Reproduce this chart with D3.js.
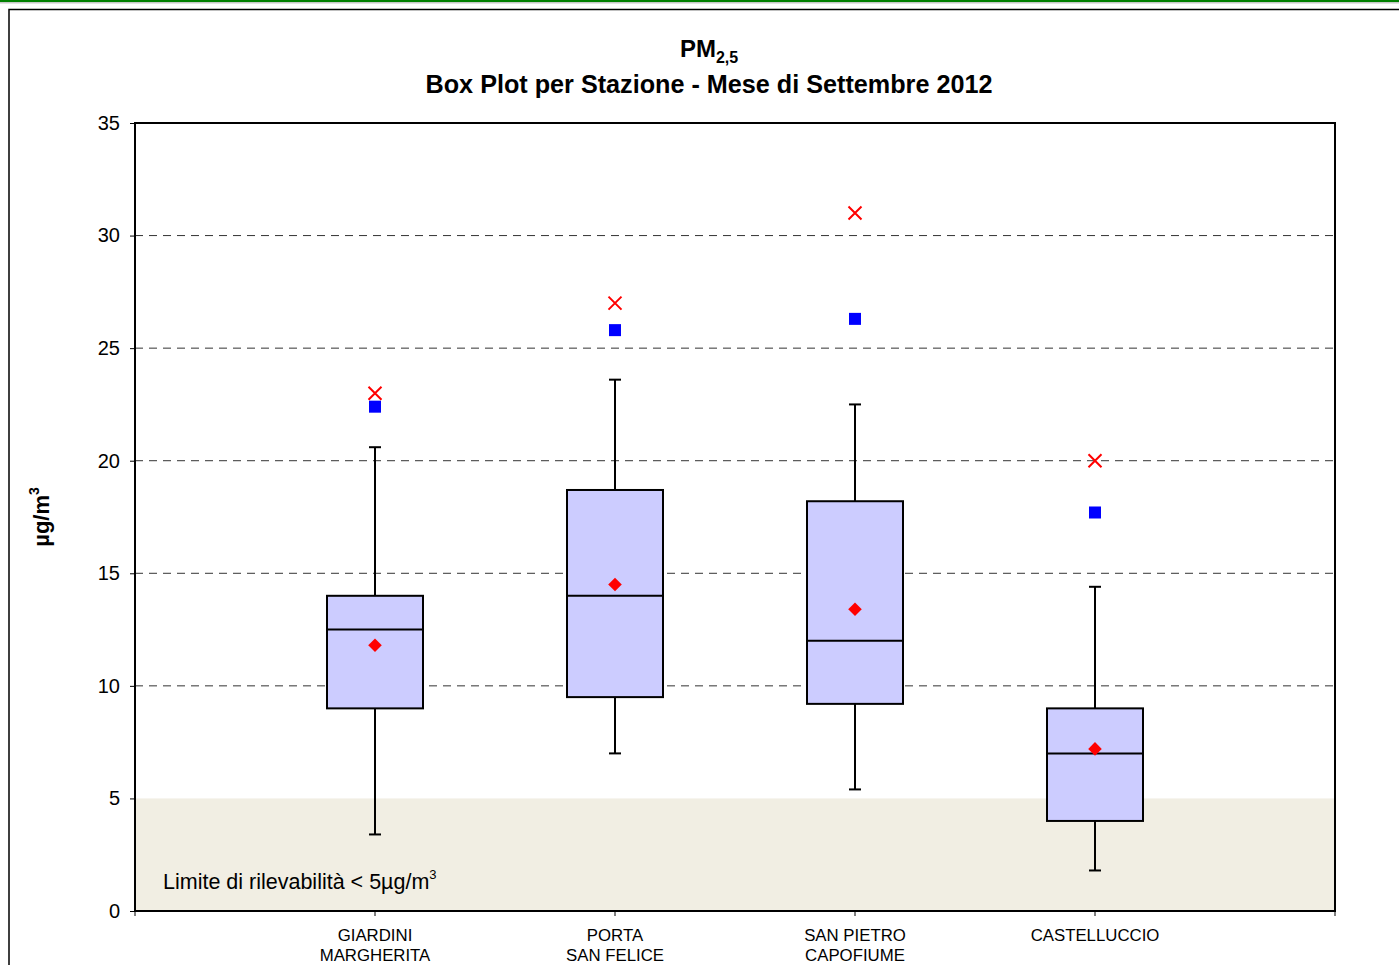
<!DOCTYPE html>
<html><head><meta charset="utf-8">
<script src="https://cdn.jsdelivr.net/npm/d3@7"></script>
<style>body{margin:0;background:#fff}svg{display:block;font-family:"Liberation Sans",Arial,sans-serif}</style>
</head><body><svg id="c" width="1399" height="965"></svg>
<script>
const stations = [["GIARDINI","MARGHERITA"],["PORTA","SAN FELICE"],["SAN PIETRO","CAPOFIUME"],["CASTELLUCCIO"]];
const whiskerLow = [3.4, 7.0, 5.4, 1.8];
const q1 = [9.0, 9.5, 9.2, 4.0];
const median = [12.5, 14.0, 12.0, 7.0];
const q3 = [14.0, 18.7, 18.2, 9.0];
const whiskerHigh = [20.6, 23.6, 22.5, 14.4];
const mean = [11.8, 14.5, 13.4, 7.2];
const percentile98 = [22.4, 25.8, 26.3, 17.7];
const maxValue = [23.0, 27.0, 31.0, 20.0];
const yTicks = [0,5,10,15,20,25,30,35];
const detectionLimit = 5;

const svg = d3.select("#c");
const L=135,R=1335,T=123,B=911;
const keys = stations.map((s,i)=>i);
const x = d3.scalePoint().domain(keys).range([L,R]).padding(1);
const y = d3.scaleLinear().domain([0,35]).range([B,T]);

// top bars and frame
svg.append("rect").attr("x",0).attr("y",0).attr("width",1399).attr("height",2).attr("fill","#008000");
svg.append("rect").attr("x",0).attr("y",2).attr("width",1399).attr("height",1.5).attr("fill","#c8c8c8");
svg.append("rect").attr("x",9).attr("y",9.5).attr("width",1400).attr("height",970).attr("fill","none").attr("stroke","#000").attr("stroke-width",1.5);

// detection band
svg.append("rect").attr("x",L).attr("y",y(detectionLimit)).attr("width",R-L).attr("height",y(0)-y(detectionLimit)).attr("fill","#f1eee3");

// grid
svg.append("g").selectAll("line").data(yTicks.filter(d=>d>detectionLimit&&d<35)).join("line")
  .attr("x1",L).attr("x2",R).attr("y1",d=>y(d)).attr("y2",d=>y(d))
  .attr("stroke","#333").attr("stroke-width",1).attr("stroke-dasharray","8,6");

// axis y
const ya = svg.append("g").attr("transform",`translate(${L},0)`).call(d3.axisLeft(y).tickValues(yTicks).tickSize(5).tickPadding(10));
ya.select(".domain").remove();
ya.selectAll("text").attr("font-size",20).attr("fill","#000").attr("font-family","Liberation Sans, Arial, sans-serif");
ya.selectAll("line").attr("stroke","#000");

// x axis ticks
const xt = d3.range(0,6).map(i=>L+i*(R-L)/5);
svg.append("g").selectAll("line").data(xt).join("line").attr("x1",d=>d).attr("x2",d=>d).attr("y1",B).attr("y2",B+5).attr("stroke","#000");
const xl = svg.append("g").selectAll("text").data(keys).join("text")
  .attr("text-anchor","middle").attr("font-size",16.8).attr("fill","#000");
xl.each(function(i){
  const t=d3.select(this);
  stations[i].forEach((line,j)=>t.append("tspan").attr("x",x(i)).attr("y",941+j*20).text(line));
});

// boxes
const bw = 96, cap = 12;
const g = svg.append("g");
keys.forEach(i=>{
  const cx = x(i);
  g.append("line").attr("x1",cx).attr("x2",cx).attr("y1",y(whiskerLow[i])).attr("y2",y(q1[i])).attr("stroke","#000").attr("stroke-width",2);
  g.append("line").attr("x1",cx).attr("x2",cx).attr("y1",y(q3[i])).attr("y2",y(whiskerHigh[i])).attr("stroke","#000").attr("stroke-width",2);
  g.append("line").attr("x1",cx-cap/2).attr("x2",cx+cap/2).attr("y1",y(whiskerLow[i])).attr("y2",y(whiskerLow[i])).attr("stroke","#000").attr("stroke-width",2);
  g.append("line").attr("x1",cx-cap/2).attr("x2",cx+cap/2).attr("y1",y(whiskerHigh[i])).attr("y2",y(whiskerHigh[i])).attr("stroke","#000").attr("stroke-width",2);
  g.append("rect").attr("x",cx-bw/2).attr("y",y(q3[i])).attr("width",bw).attr("height",y(q1[i])-y(q3[i])).attr("fill","#ccccff").attr("stroke","#000").attr("stroke-width",2);
  g.append("line").attr("x1",cx-bw/2).attr("x2",cx+bw/2).attr("y1",y(median[i])).attr("y2",y(median[i])).attr("stroke","#000").attr("stroke-width",2);
  g.append("path").attr("transform",`translate(${cx},${y(mean[i])}) rotate(45)`).attr("d","M-4.8,-4.8H4.8V4.8H-4.8Z").attr("fill","#ff0000");
  g.append("rect").attr("x",cx-6).attr("y",y(percentile98[i])-6).attr("width",12).attr("height",12).attr("fill","#0000ff");
  const my=y(maxValue[i]);
  g.append("path").attr("d",`M${cx-6.5},${my-6.5}L${cx+6.5},${my+6.5}M${cx-6.5},${my+6.5}L${cx+6.5},${my-6.5}`).attr("stroke","#ff0000").attr("stroke-width",2);
});

// plot border
svg.append("rect").attr("x",L).attr("y",T).attr("width",R-L).attr("height",B-T).attr("fill","none").attr("stroke","#000").attr("stroke-width",2);

// band label
const bl = svg.append("text").attr("x",163).attr("y",889).attr("font-size",21.5).attr("fill","#000");
bl.append("tspan").text("Limite di rilevabilità < 5µg/m");
bl.append("tspan").attr("dy",-10).attr("font-size",13).text("3");

// title
const t1 = svg.append("text").attr("x",709).attr("y",57).attr("text-anchor","middle").attr("font-size",24).attr("font-weight","bold");
t1.append("tspan").text("PM");
t1.append("tspan").attr("dy",6).attr("font-size",16).text("2,5");
svg.append("text").attr("x",709).attr("y",93).attr("text-anchor","middle").attr("font-size",25.2).attr("font-weight","bold").text("Box Plot per Stazione - Mese di Settembre 2012");

// y label
const yl = svg.append("text").attr("transform","translate(49,517) rotate(-90)").attr("text-anchor","middle").attr("font-size",22).attr("font-weight","bold");
yl.append("tspan").text("µg/m");
yl.append("tspan").attr("dy",-10).attr("font-size",14).text("3");
</script></body></html>
